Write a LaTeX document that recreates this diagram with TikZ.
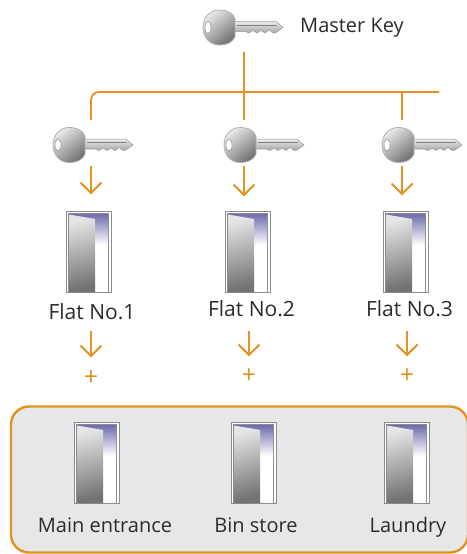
\documentclass[tikz,border=0pt]{standalone}
\usepackage{fontspec}
\setmainfont{Open Sans}
\definecolor{org}{HTML}{E39220}
\definecolor{txt}{HTML}{2B2B2B}
\definecolor{panel}{HTML}{E6E7E9}
\definecolor{purp}{HTML}{6F6CAE}
\tikzset{
  conn/.style={draw=org,line width=1.8pt,line cap=butt},
  arrowline/.style={conn,line width=1.8pt},
  lbl/.style={font=\fontsize{20pt}{24pt}\selectfont,text=txt,inner sep=0pt,anchor=center},
  flatlbl/.style={lbl,font=\fontsize{21pt}{24pt}\selectfont},
  plusmark/.style={font=\fontsize{25pt}{28pt}\selectfont,text=org,inner sep=0pt,anchor=center},
  keyshape/.pic={
    \path[draw=black!40,line width=.5pt,top color=black!8,bottom color=black!35]
      (30,-6) -- (73,-6) -- (80,0) -- (73,5) -- (70,5.5) -- (66,2.5) -- (62,5.5) -- (58,3)
      -- (54,5.5) -- (50,3) -- (46,5.5) -- (42,4) -- (30,4) -- cycle;
    \draw[black!50,line width=.6pt] (34,-2.5) -- (74,-2.5);
    \path[draw=black!30,line width=.8pt,top color=black!8,bottom color=black!55,shading angle=40]
      (16,-17.5) .. controls (7,-17.5) and (0,-10) .. (0,0)
      .. controls (0,10) and (7,17.5) .. (16,17.5)
      .. controls (25,17.5) and (30,14) .. (32,9)
      -- (32,-9) .. controls (30,-14) and (25,-17.5) .. (16,-17.5) -- cycle;
    \path[draw=black!45,fill=white,line width=.5pt] (5,0) ellipse [x radius=3,y radius=6];
  },
  doorshape/.pic={
    \path[draw=black!45,fill=white,line width=.7pt] (0,0) rectangle (45,81);
    \path[draw=black!45,fill=white,line width=.5pt] (2.5,2.5) rectangle (42.5,81);
    \path[top color=purp,bottom color=white] (3,3) rectangle (42,34);
    \path[top color=black!10,bottom color=black!55,shading angle=15]
      (3,3.5) -- (29,8) -- (29,81) -- (3,81) -- cycle;
  }
}
\begin{document}
\begin{tikzpicture}[x=1pt,y=-1pt]
\useasboundingbox (0,0) rectangle (466,554);
% panel
\path[draw=org,line width=2.4pt,fill=panel,rounded corners=18pt] (11,406.5) rectangle (468,552.5);
% key anchors
\coordinate (masterDrop) at (244,52);
\coordinate (busLeft) at (91,92);
\coordinate (busThird) at (402,92);
\coordinate (busEnd) at (439,92);
\coordinate (dropA) at (91,120);
\coordinate (dropB) at (244,120);
\coordinate (dropC) at (402,120);
\draw[conn,rounded corners=8pt] (dropA) -- (busLeft) -- (busEnd);
\draw[conn] (masterDrop) -- (dropB);
\draw[conn] (busThird) -- (dropC);
% keys
\pic at (203,27.5) {keyshape};
\pic at (53,145) {keyshape};
\pic at (224,145) {keyshape};
\pic at (382,145) {keyshape};
\node[lbl,anchor=west] (master) at (300,27.5) {Master Key};
% doors
\pic at (66,211) {doorshape};
\pic at (225,211) {doorshape};
\pic at (383,211) {doorshape};
\pic at (74,422) {doorshape};
\pic at (231,422) {doorshape};
\pic at (384,422) {doorshape};
% labels
\node[flatlbl] (flatA) at (92,311.5) {Flat No.1};
\node[flatlbl] (flatB) at (251.5,309) {Flat No.2};
\node[flatlbl] (flatC) at (409.5,309) {Flat No.3};
\node[lbl] (mainEnt) at (105,525) {Main entrance};
\node[lbl] (binStore) at (256,525) {Bin store};
\node[lbl] (laundry) at (408,527) {Laundry};
\node[plusmark] (plusA) at (91,378) {+};
\node[plusmark] (plusB) at (249,376) {+};
\node[plusmark] (plusC) at (407,376) {+};
% arrows
\foreach \n/\x/\a/\b in {a/91/166/193,b/244/166/195,c/402/166/194,d/91/331/356,e/249/331/355,f/407/331/355}{
  \coordinate (s\n) at (\x,\a);
  \coordinate (t\n) at (\x,\b);
  \coordinate (l\n) at (\x-10.5,\b-10.5);
  \coordinate (r\n) at (\x+10.5,\b-10.5);
  \draw[arrowline] (s\n) -- (t\n);
  \draw[arrowline,line join=miter] (l\n) -- (t\n) -- (r\n);
}
\end{tikzpicture}
\end{document}
